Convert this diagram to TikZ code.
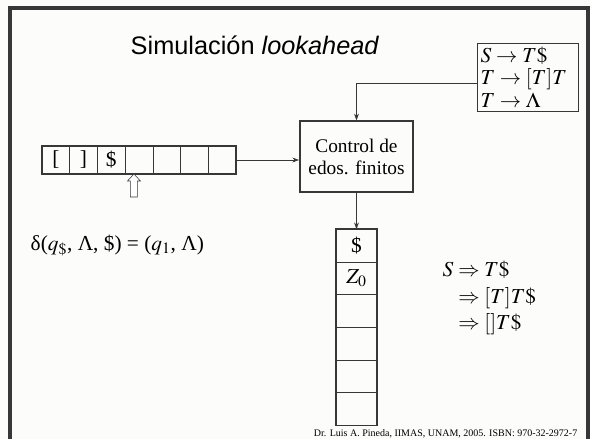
\documentclass[tikz,border=0pt]{standalone}
\usepackage{mathptmx}
\usepackage{fontspec}
\setmainfont{Liberation Serif}
\newfontfamily\slidesans{Liberation Sans}
\usetikzlibrary{arrows.meta, positioning}

\definecolor{paper}{RGB}{252,252,250}
\definecolor{ink}{RGB}{55,55,55}

\begin{document}
\begin{tikzpicture}[x=0.75pt, y=-0.75pt, >={Stealth[length=5pt,width=3.6pt]},
    line/.style={draw=ink},
    cell/.style={line, inner sep=0pt, outer sep=0pt, font=\fontsize{16}{18}\selectfont},
    tapecell/.style={cell, minimum width=20.8pt, minimum height=21pt},
    stackcell/.style={cell, minimum width=30.75pt, minimum height=24.5pt},
    block/.style={line, line width=1.2pt, minimum width=85pt, minimum height=53pt, align=center, font=\fontsize{14.5}{16.5}\selectfont},
    rules/.style={line, align=left, inner sep=2.5pt, text width=71pt, font=\fontsize{16}{17}\selectfont}]
    \useasboundingbox (0,0) rectangle (590,439);
    \fill[paper] (0,0) rectangle (590,439);
    % Slide frame
    \draw[ink, line width=2.4pt] (10,439) -- (10,8) -- (588,8) -- (588,439);
    \node[font=\slidesans\fontsize{19}{22}\selectfont] (title) at (255,45) {Simulación \textit{lookahead}};

    % Input tape
    \foreach \sym [count=\i] in {{[},{]},\$,{},{},{},{}}
        \node[tapecell] (t\i) at ({28.15+27.7*\i},160) {\sym};
    \draw[line, line width=1.2pt] (t1.north west) rectangle (t7.south east);
    % Reading head
    \draw[line, fill=white] ([xshift=-3.75pt]t4.south) -- ++(6.5,7) -- ++(-3,0) -- ++(0,16) -- ++(-7,0) -- ++(0,-16) -- ++(-3,0) -- cycle;

    \node[block] (ctrl) at (356.5,156.5) {Control de\\edos. finitos};
    \node[rules, anchor=north west] (gram) at (477,43) {$S \to T\$$\\$T \to [T]T$\\$T \to \Lambda$};

    % Stack
    \foreach \sym [count=\i] in {\$,{$Z_0$},{},{},{},{}}
        \node[stackcell] (s\i) at (356.5,{212.8+32.7*\i}) {\sym};
    \draw[line, line width=1.2pt] (s1.north west) rectangle (s6.south east);

    % Connections
    \draw[->, line] (t7.east) -- (t7.east -| ctrl.west);
    \draw[->, line] ([yshift=-5pt]gram.west) -| (ctrl.north);
    \draw[->, line] (ctrl.south) -- (s1.north);

    \node[anchor=base west, font=\fontsize{16}{19}\selectfont] (delta) at (26,250) {δ($q_{\$}$, Λ, \$) = ($q_1$, Λ)};
    \node[anchor=north west, font=\fontsize{16}{20}\selectfont] (deriv) at (438,253)
        {$\begin{array}{@{}r@{\;}l@{}} S & \Rightarrow T\$\\ & \Rightarrow [T]T\$\\ & \Rightarrow []T\$ \end{array}$};
    \node[anchor=base east, font=\fontsize{7.5}{9}\selectfont] (credit) at (582,436) {Dr. Luis A. Pineda, IIMAS, UNAM, 2005. ISBN: 970-32-2972-7};
\end{tikzpicture}
\end{document}
